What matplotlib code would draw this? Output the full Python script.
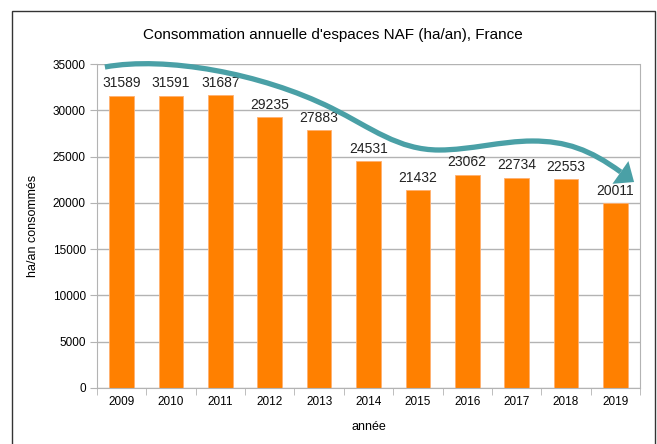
import matplotlib
matplotlib.use("Agg")
import matplotlib.pyplot as plt
from matplotlib.path import Path
from matplotlib.patches import PathPatch, Rectangle

plt.rcParams['font.family'] = ['Liberation Sans', 'DejaVu Sans']

annees = ["2009", "2010", "2011", "2012", "2013", "2014", "2015", "2016", "2017", "2018", "2019"]
conso = [31589, 31591, 31687, 29235, 27883, 24531, 21432, 23062, 22734, 22553, 20011]

fig = plt.figure(figsize=(6.57, 4.44), dpi=100)
ax = fig.add_axes([97 / 657, 1 - 388 / 444, 543 / 657, 324 / 444])

x = range(len(annees))
ax.bar(x, conso, width=0.5, color="#ff8000", edgecolor="#ffb070", linewidth=0.6, zorder=2)
for i, v in zip(x, conso):
    ax.text(i, v + 550, str(v), ha="center", va="bottom", fontsize=10, color="#222222")

ax.set_xlim(-0.5, len(annees) - 0.5)
ax.set_ylim(0, 35000)
ax.set_yticks(range(0, 35001, 5000))
ax.set_xticks(list(x))
ax.set_xticklabels(annees)
ax.set_xticks([i - 0.5 for i in range(len(annees) + 1)], minor=True)
ax.tick_params(axis="x", which="major", length=0, pad=6, labelsize=8.5)
ax.tick_params(axis="x", which="minor", length=5, color="#b3b3b3", direction="out")
ax.tick_params(axis="y", length=5, color="#b3b3b3", labelsize=8.5, pad=3)
ax.yaxis.grid(True, color="#b3b3b3", linewidth=1)
ax.set_axisbelow(True)
for s in ax.spines.values():
    s.set_color("#b3b3b3")
ax.spines["top"].set_visible(False)

fig.text(333 / 657, 1 - 35 / 444, "Consommation annuelle d'espaces NAF (ha/an), France",
         ha="center", va="center", fontsize=11)
ax.set_xlabel("année", fontsize=9, labelpad=9)
ax.set_ylabel("ha/an consommés", fontsize=9, labelpad=10)

# courbe de tendance (flèche décorative)
teal = "#4aa0a6"
verts = [(-0.34, 34675),
         (0.88, 35863), (2.82, 34026), (4.25, 30246),
         (5.06, 28085), (5.61, 25709), (6.43, 25709),
         (7.06, 25709), (7.69, 26681), (8.32, 26681),
         (9.00, 26681), (9.48, 25762), (10.11, 23332)]
codes = [Path.MOVETO] + [Path.CURVE4] * 12
ax.add_patch(PathPatch(Path(verts, codes), fill=False, edgecolor=teal,
                       linewidth=3.8, capstyle="butt", zorder=5, clip_on=False))
ax.annotate("", xy=(10.38, 22250), xytext=(10.06, 23450),
            arrowprops=dict(arrowstyle="-|>,head_length=12,head_width=10",
                            mutation_scale=1, color=teal, lw=0,
                            shrinkA=0, shrinkB=0),
            zorder=6, annotation_clip=False)

fig.patches.append(Rectangle((12 / 657, -0.05), 643 / 657, 1.05 - 11 / 444,
                             transform=fig.transFigure, fill=False,
                             edgecolor="#333333", linewidth=1))

fig.savefig("out.png", dpi=100)
